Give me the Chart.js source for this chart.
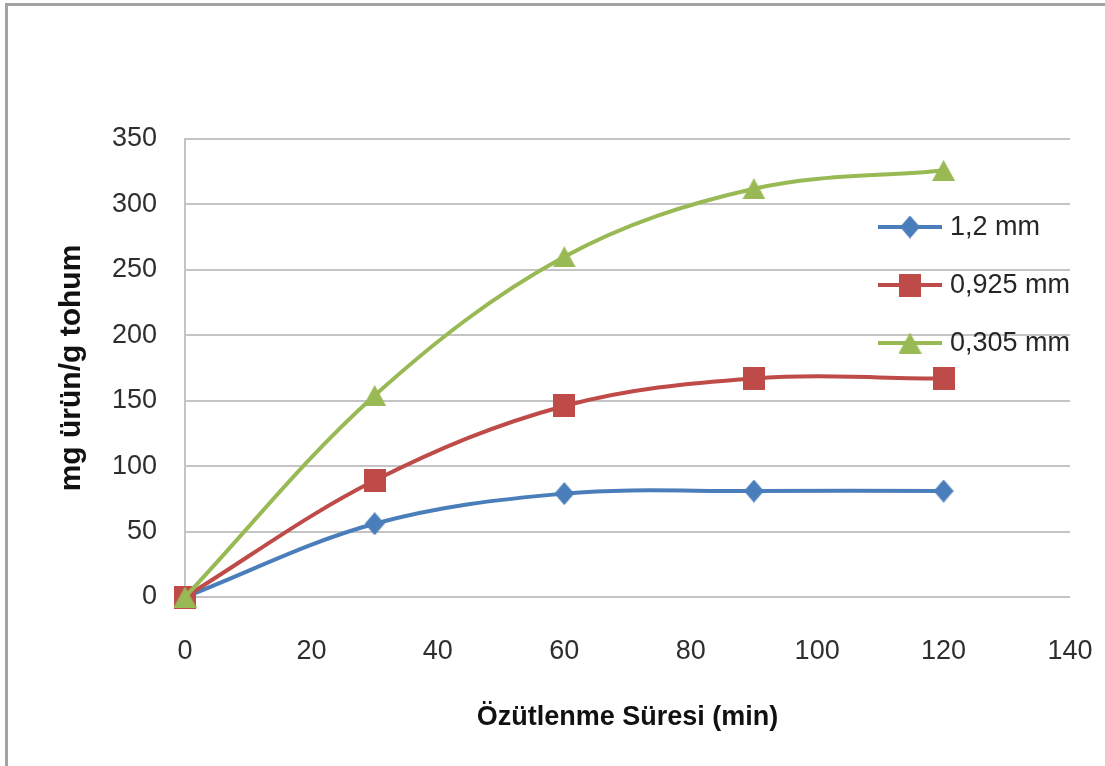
<!DOCTYPE html>
<html>
<head>
<meta charset="utf-8">
<script src="https://cdn.jsdelivr.net/npm/chart.js@4/dist/chart.umd.min.js"></script>
<style>
  html, body { margin: 0; padding: 0; background: #ffffff; overflow: hidden; }
  #frame {
    position: absolute; left: 5px; top: 3px; width: 1300px; height: 1000px;
    border: 3px solid #a3a3a3; box-sizing: border-box;
  }
  #wrap { position: absolute; left: 0; top: 0; width: 1105px; height: 766px; }
</style>
</head>
<body>
<div id="frame"></div>
<div id="wrap"><canvas id="c" width="1105" height="766"></canvas></div>
<script>
// Extraction time (minutes) and yield per particle size (mg product / g seed)
const minutes = [0, 30, 60, 90, 120];
const seriesNames = ['1,2 mm', '0,925 mm', '0,305 mm'];
const yield12 = [0, 56, 79, 81, 81];
const yield0925 = [0, 89, 146, 167, 167];
const yield0305 = [0, 154, 260, 312, 326];
const xTicks = [0, 20, 40, 60, 80, 100, 120, 140];
const yTicks = [0, 50, 100, 150, 200, 250, 300, 350];

const COLORS = ['#4a7ebb', '#be4b48', '#98b954'];
const FONT = '"Liberation Sans", Arial, sans-serif';

// Small canvases used as point markers (diamond, square, triangle)
function makeMarker(shape, color, w, h) {
  const cv = document.createElement('canvas');
  cv.width = w; cv.height = h;
  const g = cv.getContext('2d');
  g.fillStyle = color;
  g.beginPath();
  if (shape === 'diamond') {
    g.moveTo(w / 2, 0); g.lineTo(w, h / 2); g.lineTo(w / 2, h); g.lineTo(0, h / 2);
  } else if (shape === 'square') {
    g.rect(0, 0, w, h);
  } else {
    g.moveTo(w / 2, 0); g.lineTo(w, h); g.lineTo(0, h);
  }
  g.closePath();
  g.fill();
  return cv;
}
const markers = [
  makeMarker('diamond', COLORS[0], 20, 23),
  makeMarker('square', COLORS[1], 22, 23),
  makeMarker('triangle', COLORS[2], 23, 21)
];

function toPoints(arr) { return minutes.map((m, i) => ({ x: m, y: arr[i] })); }
const seriesValues = [yield12, yield0925, yield0305];

const datasets = seriesValues.map((vals, i) => ({
  label: seriesNames[i],
  data: toPoints(vals),
  borderColor: COLORS[i],
  backgroundColor: COLORS[i],
  borderWidth: 4,
  tension: 0.35,
  pointStyle: markers[i],
  pointRadius: 10,
  pointHoverRadius: 10,
  clip: false,
  order: 3 - i
}));

// Legend drawn over the right side of the plot: line sample, marker, label
const overlayLegend = {
  id: 'overlayLegend',
  afterDraw(chart) {
    const { ctx, chartArea } = chart;
    const x0 = chartArea.right - 192;
    const x1 = chartArea.right - 128;
    const tx = chartArea.right - 120;
    ctx.save();
    seriesNames.forEach((name, i) => {
      const y = chartArea.top + 88 + i * 58;
      ctx.strokeStyle = COLORS[i];
      ctx.lineWidth = 4;
      ctx.beginPath();
      ctx.moveTo(x0, y); ctx.lineTo(x1, y);
      ctx.stroke();
      const m = markers[i];
      ctx.drawImage(m, (x0 + x1) / 2 - m.width / 2, y - m.height / 2);
      ctx.fillStyle = '#262626';
      ctx.font = '27px ' + FONT;
      ctx.textAlign = 'left';
      ctx.textBaseline = 'middle';
      ctx.fillText(name, tx, y + 1);
    });
    ctx.restore();
  }
};

new Chart(document.getElementById('c'), {
  type: 'line',
  data: { datasets },
  plugins: [overlayLegend],
  options: {
    responsive: false,
    animation: false,
    layout: { padding: { left: 0, top: 139, right: 35, bottom: 0 } },
    plugins: { legend: { display: false }, tooltip: { enabled: false } },
    scales: {
      x: {
        type: 'linear',
        min: 0, max: 140,
        afterBuildTicks(scale) { scale.ticks = xTicks.map(v => ({ value: v })); },
        afterFit(scale) {
          scale.height = 169;
          scale.paddingLeft = 0;
          scale.paddingRight = 0;
        },
        grid: { display: false, drawTicks: false },
        border: { display: false },
        ticks: { padding: 38, color: '#2e2e2e', font: { family: FONT, size: 27 } },
        title: {
          display: true, text: 'Özütlenme Süresi (min)', color: '#111111',
          padding: { top: 0, bottom: 32 },
          font: { family: FONT, size: 27, weight: 'bold' }
        }
      },
      y: {
        type: 'linear',
        min: 0, max: 350,
        afterBuildTicks(scale) { scale.ticks = yTicks.map(v => ({ value: v })); },
        afterFit(scale) { scale.width = 185; },
        grid: { color: '#c4c4c4', lineWidth: 2, drawTicks: false },
        border: { display: true, color: '#c4c4c4', width: 2 },
        ticks: { padding: 28, color: '#2e2e2e', font: { family: FONT, size: 27 } },
        title: {
          display: true, text: 'mg ürün/g tohum', color: '#111111',
          padding: { top: 54, bottom: 0 },
          font: { family: FONT, size: 30, weight: 'bold' }
        }
      }
    }
  }
});
</script>
</body>
</html>
